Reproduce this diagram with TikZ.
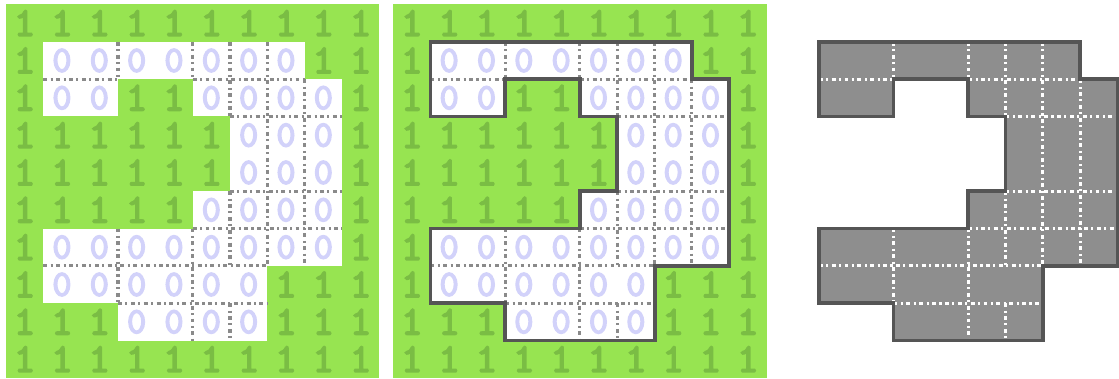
\documentclass[tikz,border=0pt]{standalone}
\usepackage{fontspec}
\newfontfamily\digitfont[FakeBold=4]{lmmono10-regular.otf}
\usepackage{xcolor}
\usepackage{tikz}
\definecolor{grass}{HTML}{97E451}
\definecolor{grassdark}{HTML}{7ABD44}
\definecolor{lavender}{HTML}{D2D2FA}
\definecolor{seamgray}{HTML}{8A8A8A}
\definecolor{rimgray}{HTML}{555555}
\definecolor{blockgray}{HTML}{8E8E8E}
\tikzset{
    cell/.style={rectangle, minimum size=1cm, inner sep=0pt},
    cell1/.style={cell, fill=grass, text=grassdark, font=\digitfont\fontsize{31}{31}\selectfont},
    cell0/.style={cell, fill=white, text=lavender, font=\digitfont\fontsize{28}{28}\selectfont},
    seam/.style={line width=2.4pt, dash pattern=on 3pt off 2.6pt on 1.6pt off 2.6pt},
    rim/.style={draw=rimgray, line width=3pt, line join=miter},
}

\begin{document}
\begin{tikzpicture}[y=-1cm]
    \useasboundingbox (0,0) rectangle (29.97,10.15);

    \foreach \px/\pn in {0.16/a, 10.53/b}{
        \foreach \bits [count=\r from 0] in {{1,1,1,1,1,1,1,1,1,1},{1,0,0,0,0,0,0,0,1,1},{1,0,0,1,1,0,0,0,0,1},
            {1,1,1,1,1,1,0,0,0,1},{1,1,1,1,1,1,0,0,0,1},{1,1,1,1,1,0,0,0,0,1},{1,0,0,0,0,0,0,0,0,1},
            {1,0,0,0,0,0,0,1,1,1},{1,1,1,0,0,0,0,1,1,1},{1,1,1,1,1,1,1,1,1,1}}{
            \foreach \b [count=\c from 0] in \bits
                \node[cell\b] (\pn-\r-\c) at (\px+\c+0.5, 0.12+\r+0.5) {\b};
        }
    }

    \fill[blockgray, shift={(20.93,0.12)}] (1,1) -| (8,2) -| (9,7) -| (7,9) -| (3,8) -| (1,6) -| (5,5) -| (6,3) -| (5,2) -| (3,3) -| cycle;

    \foreach \px/\ink in {0.16/seamgray, 10.53/seamgray, 20.93/white}
        \foreach \xa/\ya/\xb/\yb in {3/1/3/2, 3/6/3/8, 5/1/5/2, 5/6/5/9, 6/1/6/3, 6/5/6/7, 6/8/6/9, 7/1/7/7, 8/2/8/7,
                1/2/3/2, 5/2/8/2, 6/3/9/3, 6/5/9/5, 5/6/9/6, 1/7/7/7, 3/8/7/8}
            \draw[seam, \ink, shift={(\px,0.12)}] (\xa,\ya) -- (\xb,\yb);

    \foreach \px in {10.53, 20.93}
        \draw[rim, shift={(\px,0.12)}] (1,1) -| (8,2) -| (9,7) -| (7,9) -| (3,8) -| (1,6) -| (5,5) -| (6,3) -| (5,2) -| (3,3) -| cycle;
\end{tikzpicture}
\end{document}
